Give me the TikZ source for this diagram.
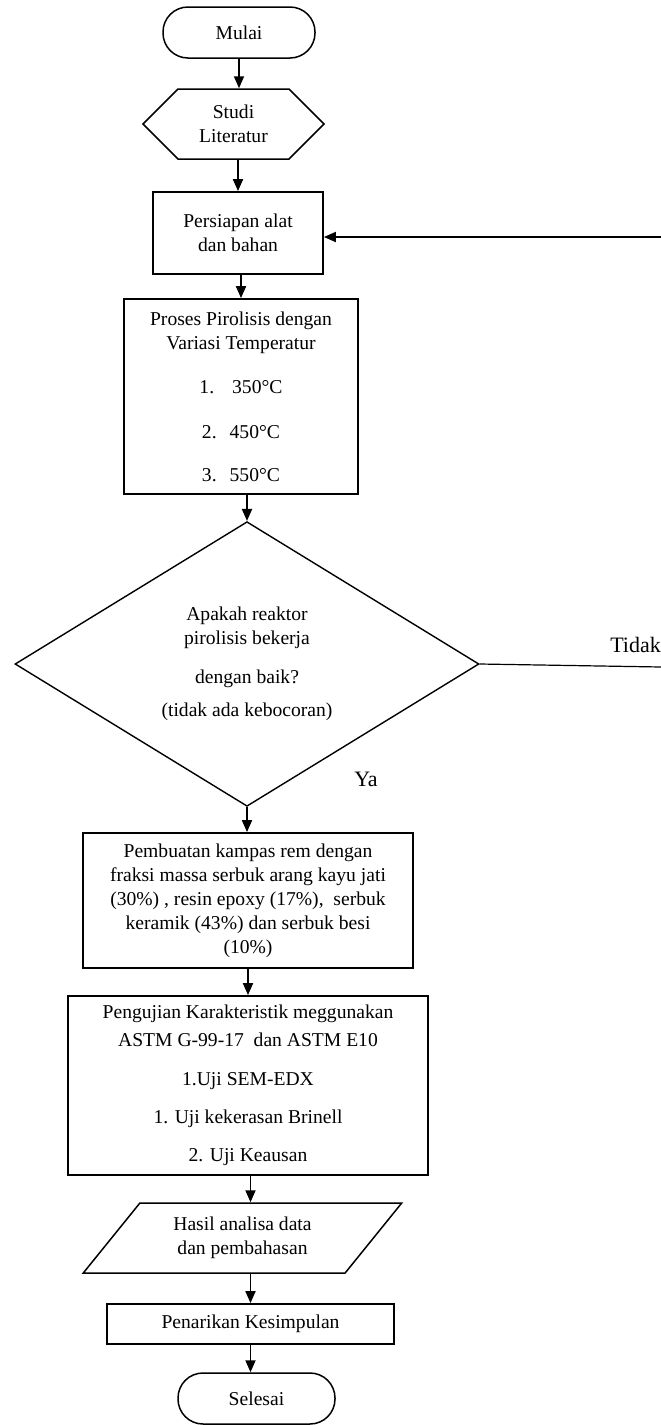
\documentclass[tikz,border=0pt]{standalone}
\usepackage{fontspec}
\setmainfont{Liberation Serif}
\usetikzlibrary{positioning, shapes.geometric, shapes.symbols, arrows.meta}
\tikzset{
    base/.style={
        font=\fontsize{19.6}{24}\selectfont,
        align=center,
        inner sep=0pt
    },
    box/.style={
        base,
        rectangle,
        draw,
        line width=1.8pt
    },
    terminal/.style={
        base,
        rectangle,
        rounded corners=25pt,
        draw,
        line width=1.5pt,
        minimum width=152pt,
        minimum height=51pt
    },
    prepare/.style={
        base,
        signal,
        signal to=west and east,
        signal pointer angle=90,
        draw,
        line width=1.5pt
    },
    decision/.style={
        base,
        diamond,
        draw,
        line width=1.4pt
    },
    iobox/.style={
        base,
        trapezium,
        trapezium left angle=47.6,
        trapezium right angle=132.4,
        trapezium stretches=true,
        draw,
        line width=1.5pt
    },
    flow/.style={
        -{Triangle[width=10pt,length=12pt]},
        line width=1.8pt
    },
    answer/.style={
        base,
        font=\fontsize{22}{26}\selectfont
    }
}

\begin{document}
\begin{tikzpicture}[x=1pt, y=-1pt]
    \useasboundingbox (0,0) rectangle (661,1425);

    % Steps
    \node[terminal] (start) at (239,32.5) {Mulai};
    \node[prepare, minimum width=181pt, minimum height=70pt] (studi) at (233.5,124) {Studi\\Literatur};
    \node[box, minimum width=170pt, minimum height=82pt] (prep) at (238,233) {Persiapan alat\\dan bahan};
    \node[box, minimum width=234pt, minimum height=195pt] (pyro) at (241,396.5) {Proses Pirolisis dengan\\Variasi Temperatur\\[20pt]1.\hspace{18pt}350°C\\[21pt]2.\hspace{13pt}450°C\\[19pt]3.\hspace{13pt}550°C};
    \node[decision, minimum width=464pt, minimum height=278pt] (check) at (247,664) {Apakah reaktor\\pirolisis bekerja\\[15pt]dengan baik?\\[9pt](tidak ada kebocoran)};
    \node[box, minimum width=330pt, minimum height=135pt] (make) at (248,900.5) {Pembuatan kampas rem dengan\\fraksi massa serbuk arang kayu jati\\(30\%) , resin epoxy (17\%),\ \ serbuk\\keramik (43\%) dan serbuk besi\\(10\%)};
    \node[box, minimum width=360pt, minimum height=179pt] (test) at (248,1085.5) {Pengujian Karakteristik meggunakan\\[4pt]ASTM G-99-17\ \ dan ASTM E10\\[15pt]1.Uji SEM-EDX\\[14pt]1. Uji kekerasan Brinell\\[14pt]2. Uji Keausan};
    \node[iobox, minimum width=319pt, minimum height=70pt] (result) at (242.5,1238) {Hasil analisa data\\dan pembahasan};
    \node[box, minimum width=287pt, minimum height=40pt] (concl) at (250.5,1324) {Penarikan Kesimpulan};
    \node[terminal, minimum width=157pt] (finish) at (256.5,1398.5) {Selesai};

    % Answers
    \node[answer, anchor=east] (tidak) at (661,645) {Tidak};
    \node[answer] (ya) at (366,779) {Ya};
    \coordinate (noend) at (661,667);
    \coordinate (back) at (661,237);

    % Connectors
    \draw[flow] (start.south) -- (start.south |- studi.north);
    \draw[flow] (prep.north |- studi.south) -- (prep.north);
    \draw[flow] (pyro.north |- prep.south) -- (pyro.north);
    \draw[flow] (check.north |- pyro.south) -- (check.north);
    \draw[flow] (check.south) -- (check.south |- make.north);
    \draw[flow] (make.south) -- (make.south |- test.north);
    \draw[flow] (concl.north |- test.south) -- (concl.north |- result.north);
    \draw[flow] (concl.north |- result.south) -- (concl.north);
    \draw[flow] (concl.south) -- (concl.south |- finish.north);
    \draw[line width=1.2pt] (check.east) -- (noend);
    \draw[flow] (back) -- (back -| prep.east);
\end{tikzpicture}
\end{document}
